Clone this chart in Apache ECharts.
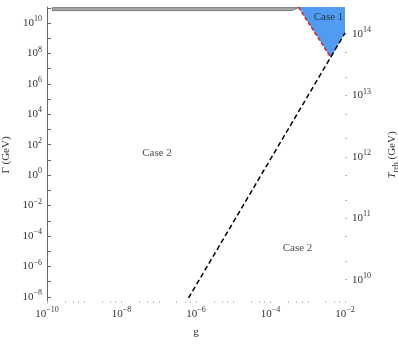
<!DOCTYPE html>
<html>
<head>
<meta charset="utf-8">
<script src="https://cdn.jsdelivr.net/npm/echarts@6/dist/echarts.min.js"></script>
<style>
  html, body { margin: 0; padding: 0; background: #fff; }
  #chart { width: 398px; height: 344px; }
</style>
</head>
<body>
<div id="chart"></div>
<script>
// axis ranges (decades)
const gRange = [1e-10, 1e-2]
const gammaRange = [Math.pow(10, -8.4), Math.pow(10, 11.05)]
const trehRange = [Math.pow(10, 9.62), Math.pow(10, 14.44)]

// tick label exponents
const gLabelExps = [-10, -8, -6, -4, -2]
const gammaLabelExps = [-8, -6, -4, -2, 0, 2, 4, 6, 8, 10]
const trehLabelExps = [10, 11, 12, 13, 14]

// black dashed boundary (g, Gamma)
const dashedG = [6.3e-7, 1e-2]
const dashedGamma = [8.5e-9, 2.2e9]

// red dashed boundary (g, Gamma)
const redG = [5.6e-4, 4.2e-3]
const redGamma = [1.12e11, 5.2e7]

// Case 1 region corners (g, Gamma)
const case1G = [5.6e-4, 1e-2, 1e-2, 4.2e-3]
const case1Gamma = [1.12e11, 1.12e11, 2.2e9, 5.2e7]

// grey band at the top (g, Gamma)
const bandG = [1.4e-10, 5.6e-4, 3.7e-4, 1.4e-10]
const bandGamma = [1.02e11, 1.02e11, 6.5e10, 6.5e10]

// text labels
const caseNames = ['Case 1', 'Case 2', 'Case 2']
const caseG = [3.6e-3, 9e-8, 5.3e-4]
const caseGamma = [2.5e10, 30, 1.6e-5]

const lg = Math.log10
const pairs = (xs, ys) => xs.map((x, i) => [lg(x), lg(ys[i])])

// ticks: every decade plus small minor ticks
function decadeTicks(a, b, minors) {
  const out = []
  for (let e = a; e <= b; e++) {
    out.push(e)
    if (minors && e < b) minors.forEach(k => out.push(e + lg(k)))
  }
  return out
}

const supRich = {
  b: { fontSize: 11, fontFamily: 'Liberation Serif', color: '#333' },
  sup: { fontSize: 8, fontFamily: 'Liberation Serif', color: '#333', verticalAlign: 'top', lineHeight: 16 }
}
const powLabel = v => {
  const e = Math.round(v)
  return '{b|10}{sup|' + String(e).replace('-', '\u2212') + '}'
}

function polygonSeries(points, style) {
  return {
    type: 'custom',
    xAxisIndex: 0,
    yAxisIndex: 0,
    silent: true,
    clip: true,
    data: points,
    renderItem: (params, api) => {
      if (params.dataIndex > 0) return null
      return {
        type: 'polygon',
        shape: { points: points.map(p => api.coord(p)) },
        style: style
      }
    }
  }
}

const chart = echarts.init(document.getElementById('chart'))
chart.setOption({
  animation: false,
  textStyle: { fontFamily: 'Liberation Serif' },
  grid: { left: 47, right: 53, top: 7, bottom: 41, containLabel: false, outerBoundsMode: 'none' },
  xAxis: {
    type: 'value',
    min: lg(gRange[0]),
    max: lg(gRange[1]),
    name: 'g',
    nameLocation: 'middle',
    nameGap: 24,
    nameTextStyle: { fontSize: 11, color: '#333', fontFamily: 'Liberation Serif' },
    axisLine: { show: false, onZero: false },
    splitLine: { show: false },
    axisTick: {
      inside: true, length: 2,
      customValues: decadeTicks(-10, -2, [3, 5, 7]),
      lineStyle: { color: '#c4c4c4', width: 1 }
    },
    axisLabel: {
      customValues: gLabelExps,
      margin: 3,
      formatter: powLabel,
      rich: supRich
    }
  },
  yAxis: [
    {
      type: 'value',
      min: lg(gammaRange[0]),
      max: lg(gammaRange[1]),
      name: '\u0393 (GeV)',
      nameLocation: 'middle',
      nameRotate: 90,
      nameGap: 32,
      nameTextStyle: { fontSize: 11, color: '#333', fontFamily: 'Liberation Serif' },
      axisLine: { show: true, onZero: false, lineStyle: { color: '#666', width: 1 } },
      splitLine: { show: false },
      axisTick: {
        inside: true, length: 4,
        customValues: decadeTicks(-8, 11),
        lineStyle: { color: '#666' }
      },
      axisLabel: {
        customValues: gammaLabelExps,
        margin: 5,
        formatter: powLabel,
        rich: supRich
      }
    },
    {
      type: 'value',
      position: 'right',
      min: lg(trehRange[0]),
      max: lg(trehRange[1]),
      name: '{i|T}{s|reh} (GeV)',
      nameLocation: 'middle',
      nameRotate: 90,
      nameGap: 40,
      nameTextStyle: {
        fontSize: 11, color: '#333', fontFamily: 'Liberation Serif',
        rich: {
          i: { fontSize: 11, fontStyle: 'italic', fontFamily: 'Liberation Serif', color: '#333' },
          s: { fontSize: 8, fontFamily: 'Liberation Serif', color: '#333', verticalAlign: 'bottom', lineHeight: 15 }
        }
      },
      axisLine: { show: false, onZero: false },
      splitLine: { show: false },
      axisTick: {
        length: 2,
        customValues: decadeTicks(10, 14, [2, 5]),
        lineStyle: { color: '#bbb' }
      },
      axisLabel: {
        customValues: trehLabelExps,
        margin: 7,
        formatter: powLabel,
        rich: supRich
      }
    }
  ],
  series: [
    polygonSeries(pairs(bandG, bandGamma), { fill: '#aaaaaa', stroke: '#777', lineWidth: 1 }),
    polygonSeries(pairs(case1G, case1Gamma), { fill: '#4f9cf2' }),
    {
      type: 'line',
      data: pairs(redG, redGamma),
      symbol: 'none',
      lineStyle: { color: '#e0201b', width: 1.5, type: [4, 2] },
      z: 3
    },
    {
      type: 'line',
      data: pairs(dashedG, dashedGamma),
      symbol: 'none',
      lineStyle: { color: '#000', width: 1.5, type: [5, 3] },
      z: 3
    },
    {
      type: 'scatter',
      symbolSize: 0,
      data: caseNames.map((n, i) => ({ value: [lg(caseG[i]), lg(caseGamma[i])], name: n })),
      label: {
        show: true,
        position: 'inside',
        formatter: p => p.name,
        fontSize: 11,
        color: '#222',
        fontFamily: 'Liberation Serif'
      },
      z: 4
    }
  ]
})
</script>
</body>
</html>
